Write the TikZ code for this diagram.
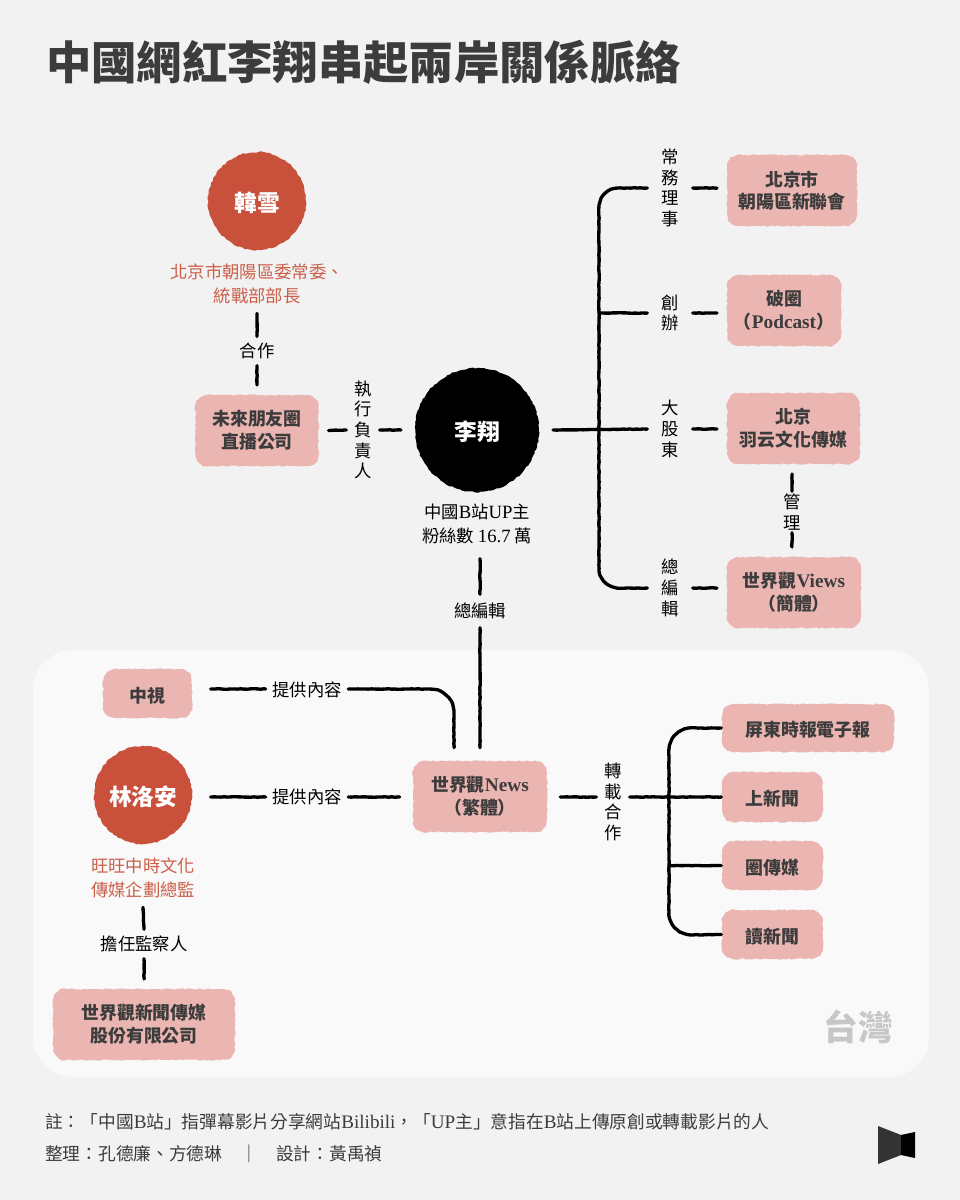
\documentclass[tikz,border=0pt]{standalone}
\usepackage{fontspec}
\usetikzlibrary{decorations.pathmorphing,calc}
\setmainfont{Noto Sans CJK TC}
\newfontfamily\lat[Scale=1.08]{Liberation Serif}
\definecolor{bgc}{HTML}{F2F2F2}
\definecolor{panelc}{HTML}{F9F9F9}
\definecolor{boxc}{HTML}{EBB6B2}
\definecolor{redc}{HTML}{C9503A}
\definecolor{rolec}{HTML}{CB5F4A}
\definecolor{inkc}{HTML}{3C3C3C}
\newcommand{\fsz}[2]{\fontsize{#1pt}{#2pt}\selectfont}
\pgfdeclaredecoration{roughedge}{step}{
  \state{step}[width=\pgfdecorationsegmentlength,auto corner on length=1.5\pgfdecorationsegmentlength]{
    \pgfsetcornersarced{\pgfpointorigin}
    \pgfpathlineto{\pgfpointadd{\pgfpoint{\pgfdecorationsegmentlength}{0pt}}{\pgfpoint{rand*\pgfdecorationsegmentamplitude}{rand*\pgfdecorationsegmentamplitude}}}
  }
  \state{final}{
    \pgfsetcornersarced{\pgfpointorigin}
    \pgfpathlineto{\pgfpointdecoratedpathlast}
  }
}
\tikzset{
  x=.75pt,y=-.75pt,
  rough/.style={decorate,decoration={roughedge,segment length=2pt,amplitude=.5pt}},
  ln/.style={draw=black,line width=2.5pt,line cap=round,line join=round,
     decorate,decoration={roughedge,segment length=2.5pt,amplitude=.2pt}},
  bx/.style 2 args={fill=boxc,rough,rounded corners=9pt,minimum width=#1*.75pt,minimum height=#2*.75pt,
     inner sep=0,outer sep=7.5pt,align=center,text=inkc,font=\fsz{13.4}{17}\bfseries,
     execute at begin node={\rule{0pt}{1.08em}}},
  circ/.style 2 args={circle,fill=#1,rough,minimum size=#2*.75pt,inner sep=0,text=white,
     font=\fsz{17}{20}\bfseries,execute at begin node={\rule{0pt}{1.05em}}},
  lab/.style={inner sep=0,outer sep=5pt,text=black,align=center,font=\fsz{13}{15.5}},
  role/.style={inner sep=0,outer sep=7pt,text=rolec,align=center,font=\fsz{13}{18}},
  capt/.style={inner sep=0,outer sep=11pt,text=black,align=center,font=\fsz{13}{18}},
  foot/.style={inner sep=0,anchor=west,text=inkc,font=\fsz{13.28}{15}},
}
\begin{document}
\begin{tikzpicture}
\useasboundingbox (0,0) rectangle (960,1200);
\fill[bgc] (0,0) rectangle (960,1200);
\fill[panelc,rounded corners=30pt] (33,650) rectangle (929,1077);

\node[inner sep=0,anchor=west,text=inkc,font=\fsz{34}{36}\bfseries] (title) at (46,62) {中國網紅李翔串起兩岸關係脈絡};

% upper left
\node[circ={redc}{98}] (hx) at (257,201) {韓雪};
\node[role] (hxr) at (257,284) {北京市朝陽區委常委、\\統戰部部長};
\node[lab] (hz) at (257,351) {合作};
\node[bx={123}{71}] (wl) at (257,430.5) {未來朋友圈\\直播公司};
\node[lab,outer sep=6pt] (zx) at (363,430) {執\\行\\負\\責\\人};
\node[circ={black}{124},outer sep=10.5pt] (lx) at (477,430) {李翔};
\node[capt] (lxc) at (477,524) {中國{\lat B}站{\lat UP}主\\粉絲數 {\lat 16.7} 萬};
\node[lab,outer sep=6.5pt] (zb) at (480,611) {總編輯};

% upper right
\node[lab,outer sep=10.5pt] (cw) at (670,188) {常\\務\\理\\事};
\node[lab,outer sep=10.5pt] (cb) at (670,313) {創\\辦};
\node[lab,outer sep=10.5pt] (dg) at (670,429) {大\\股\\東};
\node[lab,outer sep=10.5pt] (zj) at (670,588) {總\\編\\輯};
\node[bx={130}{71}] (bc) at (792,190.5) {北京市\\朝陽區新聯會};
\node[bx={114}{71}] (pq) at (784,310.5) {破圈\\（{\lat Podcast}）};
\node[bx={133}{71}] (yy) at (793.5,428.5) {北京\\羽云文化傳媒};
\node[bx={134}{71}] (sv) at (794,592.5) {世界觀{\lat Views}\\（簡體）};
\node[lab,outer sep=2pt] (gl) at (792,512) {管\\理};

% panel left
\node[bx={89}{49},outer sep=14pt] (zs) at (147.5,693.5) {中視};
\node[lab] (tg1) at (307,690) {提供內容};
\node[circ={redc}{98},outer sep=14pt] (ll) at (143,795) {林洛安};
\node[lab] (tg2) at (307,797) {提供內容};
\node[bx={134}{71},outer sep=10pt] (nw) at (480,796.5) {世界觀{\lat News}\\（繁體）};
\node[role] (llr) at (143,878) {旺旺中時文化\\傳媒企劃總監};
\node[lab] (dr) at (144,944) {擔任監察人};
\node[bx={182}{71}] (sj) at (144,1024.5) {世界觀新聞傳媒\\股份有限公司};

% panel right
\node[lab,outer sep=6pt] (zz) at (613,802) {轉\\載\\合\\作};
\node[bx={172}{48},outer sep=.5pt] (pd) at (808,728) {屏東時報電子報};
\node[bx={101}{50},outer sep=.5pt] (sx) at (772.5,797) {上新聞};
\node[bx={101}{49},outer sep=.5pt] (qc) at (772.5,865.5) {圈傳媒};
\node[bx={101}{49},outer sep=.5pt] (dx) at (772.5,934.5) {讀新聞};
\node[inner sep=0,text=black!22,font=\fsz{26}{28}\bfseries] (tw) at (858,1027) {台灣};

% connectors
\draw[ln] (hxr.south) -- (hz.north);
\draw[ln] (hz.south) -- (wl.north);
\draw[ln] (wl.east) -- (zx.west);
\draw[ln] (zx.east) -- (lx.west);
\draw[ln] (lxc.south -| zb.south) -- (zb.north);
\draw[ln] (zb.south) -- (nw.north);
\coordinate (tt) at (599,188);
\coordinate (tb) at (599,588);
\draw[ln,rounded corners=15pt] (cw.west) -- (tt) -- (tb) -- (zj.west);
\draw[ln] (tt |- cb.west) -- (cb.west);
\draw[ln] (lx.east) -- (dg.west);
\draw[ln] (cw.east) -- (cw.east -| bc.west);
\draw[ln] (cb.east) -- (cb.east -| pq.west);
\draw[ln] (dg.east) -- (dg.east -| yy.west);
\draw[ln] (zj.east) -- (zj.east -| sv.west);
\draw[ln] (gl.north) -- (gl.north |- yy.south);
\draw[ln] (gl.south) -- (gl.south |- sv.north);
\coordinate (c1) at (454,689);
\draw[ln] (zs.east |- c1) -- (tg1.west |- c1);
\draw[ln,rounded corners=18pt] (tg1.east |- c1) -- (c1) -- (c1 |- nw.north);
\draw[ln] (ll.east |- tg2.west) -- (tg2.west);
\draw[ln] (tg2.east) -- (nw.west |- tg2.east);
\draw[ln] (llr.south) -- (dr.north);
\draw[ln] (dr.south) -- (sj.north);
\draw[ln] (nw.east |- sx.west) -- (zz.west |- sx.west);
\draw[ln] (zz.east |- sx.west) -- (sx.west);
\coordinate (t1) at (669,728);
\coordinate (t2) at (669,935);
\draw[ln,rounded corners=17pt] (pd.west) -- (t1) -- (t2) -- (dx.west);
\draw[ln] (t1 |- qc.west) -- (qc.west);

% footer
\node[foot] (f1) at (45,1122) {註：「中國{\lat B}站」指彈幕影片分享網站{\lat Bilibili}，「{\lat UP}主」意指在{\lat B}站上傳原創或轉載影片的人};
\node[foot] (f2) at (45,1154) {整理：孔德廉、方德琳};
\node[foot] (f3) at (240,1154) {｜};
\node[foot] (f4) at (276,1154) {設計：黃禹禎};

% logo
\fill[inkc!85!black] (878,1126) -- (901,1135) -- (901,1155) -- (878,1164) -- cycle;
\fill[black] (901,1135) -- (915,1132) -- (915,1158) -- (901,1155) -- cycle;
\end{tikzpicture}
\end{document}
